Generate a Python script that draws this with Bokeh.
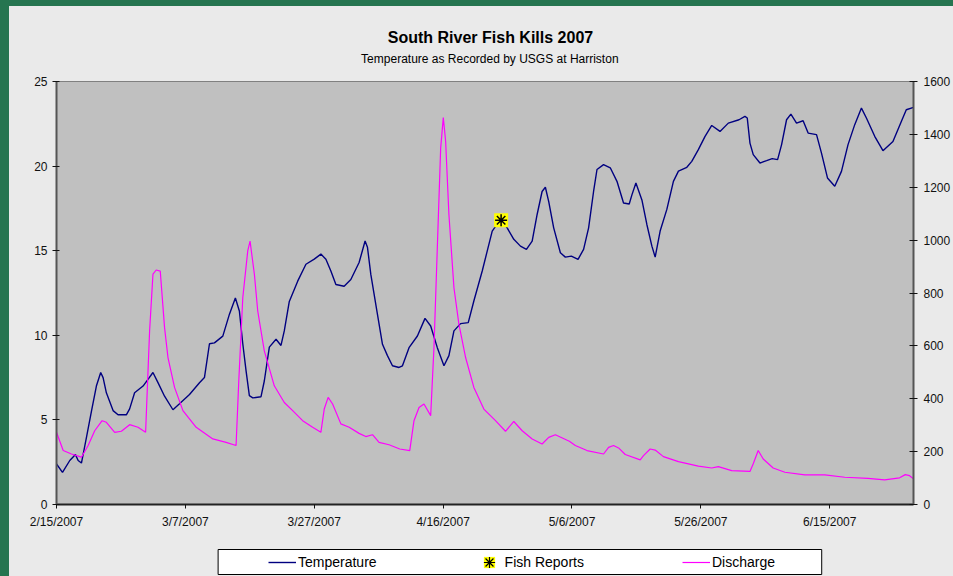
from bokeh.plotting import figure
from bokeh.layouts import column
from bokeh.models import Range1d, LinearAxis, FixedTicker, Label, Legend, LegendItem, BoxAnnotation
from bokeh.embed import file_html
from bokeh.resources import INLINE

FONT = "Liberation Sans"

# ---- data (days since 2/15/2007) ----
TEMP_DAY = [0, 0.93, 2.06, 2.94, 3.36, 3.87, 4.65, 5.42, 6.19, 6.86, 7.23, 7.74, 8.78, 9.55, 10.84,
            11.35, 12.12, 13.43, 14.2, 14.97, 15.75, 16.77, 18.07, 19.09, 20.64, 22.19, 22.96, 23.74,
            24.51, 25.81, 26.84, 27.76, 28.38, 28.91, 29.42, 29.93, 30.46, 31.74, 32.25, 33.03, 34.07,
            34.84, 35.35, 36.13, 37.43, 38.71, 40.0, 41.03, 41.81, 42.58, 43.36, 44.64, 45.68, 46.96,
            47.89, 48.26, 48.78, 49.81, 50.59, 51.36, 52.14, 53.16, 53.69, 54.71, 56.01, 57.19, 58.07,
            59.1, 60.13, 60.9, 61.68, 62.71, 63.9, 64.77, 66.07, 67.62, 68.91, 69.94, 70.97, 72.0,
            72.93, 73.82, 74.59, 75.36, 75.87, 76.39, 77.16, 78.2, 78.97, 79.9, 80.94, 81.8, 82.58,
            83.35, 83.88, 84.9, 85.94, 86.98, 88.0, 88.88, 89.3, 89.92, 90.85, 91.62, 92.4, 92.91,
            93.68, 94.72, 95.74, 96.52, 97.82, 98.59, 99.61, 100.65, 101.69, 102.97, 104.26, 105.92,
            106.84, 107.2, 107.62, 108.13, 109.17, 110.2, 111.07, 111.91, 112.53, 113.3, 113.97,
            114.85, 115.87, 116.65, 117.95, 118.72, 119.65, 120.78, 121.82, 122.84, 123.88, 124.92,
            125.69, 126.98, 128.26, 129.81, 131.11, 131.88, 133.0]
TEMP_C = [2.4, 1.9, 2.6, 2.95, 2.6, 2.45, 3.97, 5.5, 7.0, 7.8, 7.5, 6.6, 5.55, 5.3, 5.3,
          5.65, 6.6, 7.0, 7.4, 7.8, 7.2, 6.4, 5.6, 5.95, 6.5, 7.2, 7.5, 9.5,
          9.55, 9.95, 11.25, 12.2, 11.44, 9.5, 7.9, 6.43, 6.3, 6.37, 7.3, 9.3, 9.77,
          9.4, 10.26, 12.0, 13.2, 14.2, 14.5, 14.8, 14.5, 13.8, 13.0, 12.9, 13.3, 14.3,
          15.57, 15.2, 13.6, 11.24, 9.47, 8.8, 8.2, 8.1, 8.2, 9.27, 9.96, 11.0, 10.55,
          9.27, 8.2, 8.8, 10.26, 10.69, 10.75, 12.03, 13.8, 16.16, 16.85, 16.35, 15.67, 15.27,
          15.08, 15.57, 17.14, 18.5, 18.75, 17.9, 16.35, 14.88, 14.62, 14.68, 14.49, 15.08, 16.35,
          18.5, 19.8, 20.09, 19.9, 19.1, 17.82, 17.76, 18.3, 19.0, 18.0, 16.55, 15.27, 14.62,
          16.16, 17.44, 19.1, 19.7, 19.93, 20.28, 20.97, 21.76, 22.4, 22.05, 22.54, 22.74,
          22.94, 22.84, 21.36, 20.68, 20.18, 20.32, 20.44, 20.38, 21.27, 22.74, 23.07,
          22.54, 22.68, 21.95, 21.86, 20.77, 19.3, 18.81, 19.69, 21.27, 22.45, 23.43,
          22.84, 21.76, 20.91, 21.46, 22.64, 23.33, 23.47]

Q_DAY = [0, 1.04, 2.32, 3.87, 4.91, 5.93, 7.08, 7.74, 9.03, 10.07, 11.35, 12.65, 13.83, 14.04,
         14.45, 14.97, 15.48, 16.1, 16.77, 17.3, 18.32, 19.62, 21.68, 24.26, 26.32, 27.87, 28.29,
         28.91, 29.68, 30.04, 30.71, 31.23, 32.25, 33.8, 35.35, 36.65, 38.2, 39.75, 41.03, 41.55,
         42.16, 42.85, 44.13, 45.42, 46.96, 48.0, 49.04, 50.06, 51.61, 53.27, 54.82, 55.48, 56.26,
         57.03, 58.07, 58.58, 59.1, 59.62, 60.03, 60.39, 60.9, 61.68, 62.45, 63.49, 64.77, 66.32,
         68.13, 69.68, 70.97, 72.27, 73.82, 75.36, 76.39, 77.42, 79.59, 80.52, 82.33, 84.9, 85.68,
         86.45, 87.23, 88.26, 90.59, 91.1, 92.13, 92.91, 94.19, 96.52, 99.61, 101.69, 102.71,
         104.78, 107.62, 108.13, 108.9, 109.68, 111.22, 113.04, 116.13, 119.23, 122.33, 125.94,
         128.52, 130.84, 131.72, 132.39, 133.0]
Q_CFS = [273, 204, 191, 179, 223, 279, 317, 311, 273, 277, 302, 292, 273, 405,
         657, 871, 887, 883, 669, 556, 443, 355, 292, 248, 235, 223, 468,
         782, 959, 996, 871, 732, 581, 449, 386, 355, 317, 292, 273, 361,
         405, 380, 305, 292, 269, 257, 264, 235, 226, 210, 204, 317, 367,
         380, 336, 594, 971, 1348, 1464, 1374, 1097, 820, 682, 556, 443, 361,
         317, 277, 314, 279, 248, 229, 254, 264, 239, 223, 204, 191, 216,
         223, 214, 189, 169, 185, 210, 206, 181, 162, 145, 138, 143,
         128, 125, 154, 204, 172, 138, 122, 112, 112, 103, 99,
         93, 101, 113, 109, 97]

FISH_DAY = [69.0]
FISH_TEMP = [16.8]

X_TICKS = [0, 20, 40, 60, 80, 100, 120]
X_TICK_LABELS = ["2/15/2007", "3/7/2007", "3/27/2007", "4/16/2007", "5/6/2007", "5/26/2007", "6/15/2007"]
TEMP_TICKS = [0, 5, 10, 15, 20, 25]
Q_TICKS = [0, 200, 400, 600, 800, 1000, 1200, 1400, 1600]

TITLE = "South River Fish Kills 2007"
SUBTITLE = "Temperature as Recorded by  USGS at Harriston"
SERIES = ["Temperature", "Fish Reports", "Discharge"]

BG = "#eaeaea"
TEMP_COLOR = "#000080"
Q_COLOR = "#ff00ff"
W = 944
BL, BR = 47, 38          # left / right borders shared by all three strips (frames align)
FW = W - BL - BR         # frame width in px

# ---- header with titles ----
head = figure(width=W, height=66, output_backend="svg", toolbar_location=None,
              x_range=Range1d(0, 1), y_range=Range1d(0, 1),
              x_axis_location=None, y_axis_location=None,
              min_border_left=BL, min_border_right=BR, min_border_top=0, min_border_bottom=0,
              background_fill_color=BG, border_fill_color=BG, outline_line_color=None)
head.grid.visible = False
head.add_layout(Label(x=434, y=35, x_units="screen", y_units="screen", text=TITLE,
                      text_align="center", text_baseline="middle", text_font=FONT,
                      text_font_size="16px", text_font_style="bold", text_color="#000000"))
head.add_layout(Label(x=435, y=14, x_units="screen", y_units="screen", text=SUBTITLE,
                      text_align="center", text_baseline="middle", text_font=FONT,
                      text_font_size="12px", text_color="#000000"))

# ---- main chart ----
p = figure(width=W, height=473, output_backend="svg", toolbar_location=None,
           x_range=Range1d(0, 133), y_range=Range1d(0, 25),
           min_border_left=BL, min_border_right=BR, min_border_top=9, min_border_bottom=41,
           background_fill_color="#c0c0c0", border_fill_color=BG,
           outline_line_color="#808080", outline_line_width=1)
p.extra_y_ranges = {"q": Range1d(0, 1600)}
p.grid.visible = False

def style_axis(ax, tin, tout, standoff, color):
    ax.axis_line_color = color
    ax.axis_line_width = 2
    ax.major_tick_line_color = "#111111"
    ax.major_tick_line_width = 1
    ax.major_tick_in = tin
    ax.major_tick_out = tout
    ax.minor_tick_line_color = None
    ax.major_label_text_font = FONT
    ax.major_label_text_font_size = "12px"
    ax.major_label_text_color = "#111111"
    ax.major_label_standoff = standoff

xa = p.xaxis[0]
xa.ticker = FixedTicker(ticks=X_TICKS)
xa.major_label_overrides = {t: lab for t, lab in zip(X_TICKS, X_TICK_LABELS)}
style_axis(xa, 0, 4, 6, "#222222")

ya = p.yaxis[0]
ya.ticker = FixedTicker(ticks=TEMP_TICKS)
style_axis(ya, 3, 4, 5, "#555555")

ra = LinearAxis(y_range_name="q", ticker=FixedTicker(ticks=Q_TICKS))
style_axis(ra, 4, 4, 6, "#555555")
p.add_layout(ra, "right")

p.line(TEMP_DAY, TEMP_C, line_color=TEMP_COLOR, line_width=1.4)
p.line(Q_DAY, Q_CFS, y_range_name="q", line_color=Q_COLOR, line_width=1.2)
p.scatter(FISH_DAY, FISH_TEMP, marker="square", size=14, fill_color="#ffff00", line_color=None)
p.scatter(FISH_DAY, FISH_TEMP, marker="asterisk", size=12, line_color="#000000", line_width=1.5)

# ---- legend strip (ranges in pixels of its frame) ----
lg = figure(width=W, height=31, output_backend="svg", toolbar_location=None,
            x_range=Range1d(0, FW), y_range=Range1d(0, 31),
            x_axis_location=None, y_axis_location=None,
            min_border_left=BL, min_border_right=BR, min_border_top=0, min_border_bottom=0,
            background_fill_color=BG, border_fill_color=BG, outline_line_color=None)
lg.grid.visible = False
lg.add_layout(BoxAnnotation(left=162, right=767, bottom=2, top=27,
                            fill_color="#ffffff", fill_alpha=1.0,
                            line_color="#000000", line_width=1, line_alpha=1.0))
# legend keys: one sample each, placed outside the visible range
k_t = lg.line(x=[-20, -10], y=[-10, -10], line_color=TEMP_COLOR, line_width=1.4)
k_sq = lg.scatter(x=[-10], y=[-10], marker="square", fill_color="#ffff00", line_color=None)
k_ast = lg.scatter(x=[-10], y=[-10], marker="asterisk", line_color="#000000", line_width=1.2)
k_q = lg.line(x=[-20, -10], y=[-10, -10], line_color=Q_COLOR, line_width=1.2)
legend = Legend(items=[LegendItem(label=SERIES[0], renderers=[k_t]),
                       LegendItem(label=SERIES[1], renderers=[k_sq, k_ast]),
                       LegendItem(label=SERIES[2], renderers=[k_q])],
                orientation="horizontal", location=(212, 0.5),
                padding=0, spacing=98, glyph_width=28, glyph_height=28, label_standoff=2,
                label_height=28,
                label_text_font=FONT, label_text_font_size="14px", label_text_color="#000000",
                background_fill_alpha=0, border_line_alpha=0)
lg.add_layout(legend)

layout = column(head, p, lg, spacing=0, margin=(6, 0, 0, 9),
                styles={"background-color": BG})

html = file_html(layout, INLINE)
html = html.replace("</head>", "<style>html, body { background: #267550 !important; }</style></head>", 1)
open("out.html", "w").write(html)
